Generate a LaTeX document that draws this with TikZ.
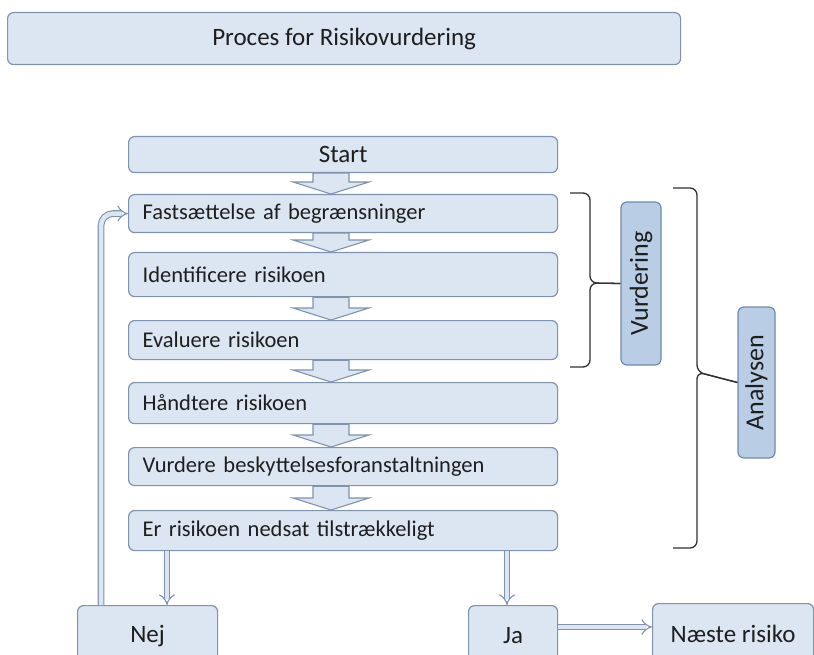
\documentclass[tikz,border=0pt]{standalone}
\usepackage{fontspec}
\setmainfont{Carlito}
\usetikzlibrary{arrows.meta,calc}
\definecolor{boxfill}{HTML}{DCE6F2}
\definecolor{boxline}{HTML}{7F93AE}
\definecolor{sidefill}{HTML}{B9CDE5}
\definecolor{sideline}{HTML}{6F8AAE}
\definecolor{txt}{HTML}{1E1E1E}
\definecolor{bracecol}{HTML}{303030}
\tikzset{
  box/.style={draw=boxline, fill=boxfill, line width=1.2pt, rounded corners=6pt,
    inner sep=0pt, text=txt, font=\fontsize{25}{29}\selectfont},
  lbox/.style={box, anchor=north west, inner xsep=14pt, text width=401pt, align=left,
    font=\fontsize{22.5}{27}\selectfont},
  cbox/.style={box, anchor=north west, align=center},
  sidebox/.style={box, fill=sidefill, draw=sideline, rotate=90, font=\fontsize{26}{30}\selectfont},
  blockarrow/.style={draw=boxline, fill=boxfill, line width=1.1pt, line join=miter},
  dbl/.style={draw=boxline, double=boxfill, double distance=4.5pt, line width=1.1pt, -{Implies}},
  bracestyle/.style={draw=bracecol, line width=1.3pt, rounded corners=7pt},
}
\newcommand\blockarr[2]{%
  \draw[blockarrow] let \p1=(#1.south -| ax), \p2=(#2.north -| ax) in
    (\x1-18pt,\y1) -- (\x1-18pt,\y2+12pt) -- (\x1-38pt,\y2+12pt) -- (\x2,\y2)
    -- (\x1+38pt,\y2+12pt) -- (\x1+18pt,\y2+12pt) -- (\x1+18pt,\y1) -- cycle;}
\begin{document}
\begin{tikzpicture}[x=1pt,y=-1pt]
\useasboundingbox (0,0) rectangle (814,655);
\fill[white] (0,0) rectangle (814,655);
\clip (0,0) rectangle (814,655);

\node[cbox, minimum width=673pt, minimum height=52pt] (title) at (7,12) {Proces for Risikovurdering};

\node[cbox, minimum width=429pt, minimum height=36pt] (start) at (128,136) {Start};
\node[lbox, minimum height=38pt] (fast) at (128,194) {Fastsættelse af begrænsninger};
\node[lbox, minimum height=44pt] (ident) at (128,252) {Identificere risikoen};
\node[lbox, minimum height=39pt] (eval) at (128,320) {Evaluere risikoen};
\node[lbox, minimum height=41pt] (haand) at (128,382) {Håndtere risikoen};
\node[lbox, minimum height=38pt] (vurd) at (128,447) {Vurdere beskyttelsesforanstaltningen};
\node[lbox, minimum height=40pt] (er) at (128,510) {Er risikoen nedsat tilstrækkeligt};

\node[cbox, minimum width=140pt, minimum height=60pt] (nej) at (77,605) {Nej};
\node[cbox, minimum width=89pt, minimum height=60pt] (ja) at (468,605) {Ja};
\node[cbox, minimum width=161pt, minimum height=61pt] (naeste) at (652,603) {Næste risiko};

\node[sidebox, minimum width=163pt, minimum height=40pt] (vurdering) at (641,283.5) {Vurdering};
\node[sidebox, minimum width=151pt, minimum height=37pt] (analysen) at (756.5,382.5) {Analysen};

\coordinate (ax) at (331,0);
\coordinate (nx) at (167,0);
\coordinate (lx) at (101,0);
\coordinate (jx) at (507,0);
\coordinate (hy) at (0,627);

\blockarr{start}{fast}
\blockarr{fast}{ident}
\blockarr{ident}{eval}
\blockarr{eval}{haand}
\blockarr{haand}{vurd}
\blockarr{vurd}{er}

\draw[dbl] (er.south -| nx) -- (nej.north -| nx);
\draw[dbl] (er.south -| jx) -- (ja.north -| jx);
\draw[dbl] (ja.east |- hy) -- (naeste.west |- hy);
\draw[dbl, rounded corners=12pt] (nej.north -| lx) |- (fast.west);

% braces
\draw[bracestyle] (570,193) -| (590,283) -- (vurdering.north);
\draw[bracestyle] (570,367) -| (590,283) -- (vurdering.north);
\draw[bracestyle] (673,188) -| (697,372) -- (analysen.north);
\draw[bracestyle] (673,548) -| (697,372) -- (analysen.north);
\end{tikzpicture}
\end{document}
